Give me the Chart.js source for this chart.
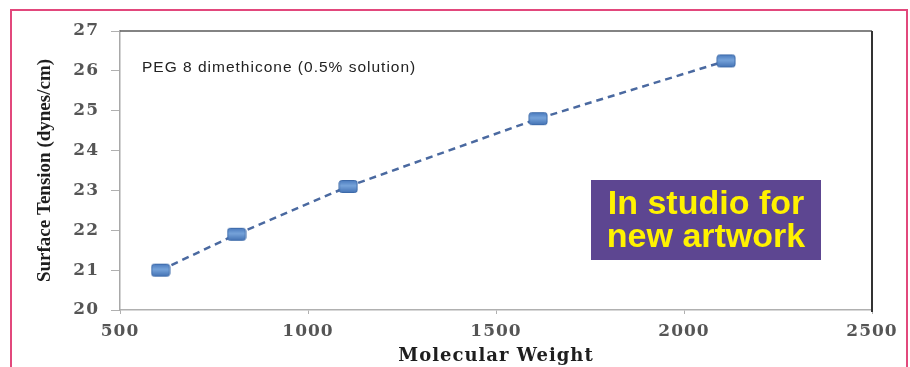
<!DOCTYPE html>
<html>
<head>
<meta charset="utf-8">
<script src="https://cdn.jsdelivr.net/npm/chart.js@4"></script>
<style>
  html, body { margin: 0; padding: 0; background: #ffffff; }
  #wrap { position: relative; width: 910px; height: 367px; }
</style>
</head>
<body>
<div id="wrap"><canvas id="chart"></canvas></div>
<script>
// Surface tension of PEG 8 dimethicone vs molecular weight
const molecularWeights = [608, 810, 1107, 1612, 2112];
const surfaceTension = [21.0, 21.9, 23.1, 24.8, 26.25];
const xTicks = [500, 1000, 1500, 2000, 2500];
const yTicks = [20, 21, 22, 23, 24, 25, 26, 27];
const seriesNote = 'PEG 8 dimethicone (0.5% solution)';
const stampLines = ['In studio for', 'new artwork'];

// Rounded blue marker drawn once and reused as the point style
function makeMarker() {
  const c = document.createElement('canvas');
  c.width = 20; c.height = 15;
  const g = c.getContext('2d');
  const grad = g.createLinearGradient(0, 0, 0, 15);
  grad.addColorStop(0, '#3f70b6');
  grad.addColorStop(0.45, '#76a3da');
  grad.addColorStop(1, '#3a69ad');
  g.fillStyle = grad;
  g.strokeStyle = '#3d6aa9';
  g.lineWidth = 1;
  g.beginPath();
  g.roundRect(1, 1.5, 18, 12, 2.5);
  g.fill();
  g.stroke();
  return c;
}

// Page frame, plot frame (top/right), note text and stamp box
const decorations = {
  id: 'decorations',
  afterUpdate(chart) {
    if (chart.$patched) return;
    chart.$patched = true;
    const ctx = chart.ctx;
    const spaced = (scale, method, spacing) => {
      const orig = scale[method];
      scale[method] = function (...args) {
        ctx.save();
        ctx.letterSpacing = spacing;
        orig.apply(this, args);
        ctx.restore();
      };
    };
    spaced(chart.scales.x, 'drawLabels', '1px');
    spaced(chart.scales.y, 'drawLabels', '1px');
    spaced(chart.scales.x, 'drawTitle', '1px');
  },
  beforeDraw(chart) {
    const ctx = chart.ctx;
    ctx.save();
    ctx.fillStyle = '#ffffff';
    ctx.fillRect(0, 0, chart.width, chart.height);
    ctx.strokeStyle = '#e2487c';
    ctx.lineWidth = 2;
    ctx.strokeRect(11, 10, 896, 420);
    ctx.restore();
  },
  afterDraw(chart) {
    const ctx = chart.ctx;
    const a = chart.chartArea;
    ctx.save();
    ctx.strokeStyle = '#5a5a5a';
    ctx.lineWidth = 1.5;
    ctx.beginPath();
    ctx.moveTo(a.left, a.top);
    ctx.lineTo(a.right, a.top);
    ctx.stroke();
    ctx.strokeStyle = '#333333';
    ctx.lineWidth = 2;
    ctx.beginPath();
    ctx.moveTo(a.right, a.top);
    ctx.lineTo(a.right, a.bottom + 2);
    ctx.stroke();

    ctx.fillStyle = '#222222';
    ctx.font = '15.5px "Liberation Sans", Arial, sans-serif';
    ctx.letterSpacing = '1px';
    ctx.textAlign = 'left';
    ctx.textBaseline = 'alphabetic';
    ctx.fillText(seriesNote, 142, 72);

    ctx.letterSpacing = '0px';
    ctx.fillStyle = '#5d4691';
    ctx.fillRect(591, 180, 230, 80);
    ctx.fillStyle = '#fff200';
    ctx.font = 'bold 34px "Liberation Sans", Arial, sans-serif';
    ctx.textAlign = 'center';
    ctx.fillText(stampLines[0], 706, 214);
    ctx.fillText(stampLines[1], 706, 247);
    ctx.restore();
  }
};

const tickFont = { family: '"DejaVu Serif", serif', size: 17, weight: 'bold' };

new Chart(document.getElementById('chart'), {
  type: 'line',
  data: {
    datasets: [{
      data: molecularWeights.map((w, i) => ({ x: w, y: surfaceTension[i] })),
      borderColor: '#4a69a0',
      borderWidth: 2.5,
      borderDash: [7, 5],
      pointStyle: makeMarker(),
      pointRadius: 8,
      tension: 0,
      fill: false
    }]
  },
  options: {
    responsive: true,
    maintainAspectRatio: false,
    animation: false,
    events: [],
    layout: { padding: { top: 31, right: 38, left: 0, bottom: 0 } },
    plugins: {
      legend: { display: false },
      tooltip: { enabled: false }
    },
    scales: {
      x: {
        type: 'linear',
        min: xTicks[0],
        max: xTicks[xTicks.length - 1],
        afterBuildTicks: s => { s.ticks = xTicks.map(v => ({ value: v })); },
        afterFit: s => { s.height = 57; },
        ticks: { font: tickFont, color: '#555555', padding: 7, maxRotation: 0, callback: v => String(v) },
        grid: { drawOnChartArea: false, drawTicks: true, tickLength: 4, color: '#b0b0b0' },
        border: { color: '#b0b0b0', width: 1.5 },
        title: {
          display: true,
          text: 'Molecular Weight',
          color: '#1e1e1e',
          font: { family: '"DejaVu Serif", serif', size: 18, weight: 'bold' },
          padding: { top: 0, bottom: 0 }
        }
      },
      y: {
        min: yTicks[0],
        max: yTicks[yTicks.length - 1],
        afterBuildTicks: s => { s.ticks = yTicks.map(v => ({ value: v })); },
        afterFit: s => { s.width = 120; },
        ticks: { font: tickFont, color: '#555555', padding: 12, callback: v => String(v) },
        grid: { drawOnChartArea: false, drawTicks: true, tickLength: 9, color: '#b0b0b0' },
        border: { color: '#a8a8a8', width: 1.5 },
        title: {
          display: true,
          text: 'Surface Tension (dynes/cm)',
          color: '#1e1e1e',
          font: { family: '"Liberation Serif", serif', size: 19, weight: 'bold' },
          padding: { top: 34, bottom: 0 }
        }
      }
    }
  },
  plugins: [decorations]
});
</script>
</body>
</html>
